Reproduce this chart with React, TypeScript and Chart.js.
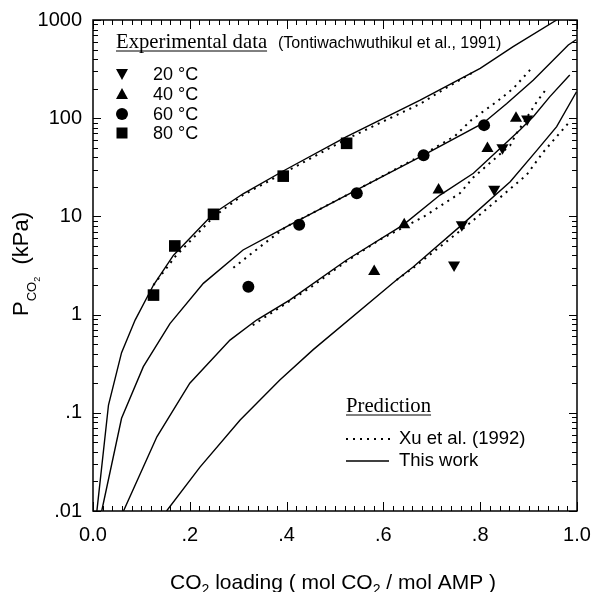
import React, { useEffect, useRef } from 'react';
import { Chart, registerables } from 'chart.js';

Chart.register(...registerables);

// ---------- axis ticks ----------
const X_TICKS = [0, 0.2, 0.4, 0.6, 0.8, 1.0];
const X_TICK_LABELS = ['0.0', '.2', '.4', '.6', '.8', '1.0'];
const Y_TICKS = [0.01, 0.1, 1, 10, 100, 1000];
const Y_TICK_LABELS = ['.01', '.1', '1', '10', '100', '1000'];

// ---------- "This work" predictions (solid) ----------
const work80X = [0.008, 0.032, 0.059, 0.087, 0.125, 0.166, 0.249, 0.31, 0.393, 0.524, 0.676, 0.8, 0.868, 0.958];
const work80Y = [0.01, 0.12, 0.41, 0.88, 2.0, 4.0, 10.7, 17, 29, 65, 153, 322, 535, 1000];
const work60X = [0.018, 0.059, 0.104, 0.159, 0.228, 0.31, 0.4, 0.545, 0.683, 0.806, 0.855, 0.91, 0.982, 0.998];
const work60Y = [0.01, 0.088, 0.295, 0.81, 2.08, 4.55, 7.85, 18.6, 42, 89, 141, 245, 556, 630];
const work40X = [0.063, 0.132, 0.2, 0.283, 0.338, 0.407, 0.524, 0.641, 0.717, 0.786, 0.882, 0.91, 0.944, 0.985];
const work40Y = [0.01, 0.057, 0.2, 0.55, 0.88, 1.41, 3.6, 8.2, 16.5, 27.5, 76, 104, 166, 275];
const work20X = [0.152, 0.221, 0.304, 0.386, 0.455, 0.627, 0.662, 0.762, 0.862, 0.917, 0.958, 0.999];
const work20Y = [0.01, 0.028, 0.0845, 0.216, 0.44, 2.25, 3.07, 8.2, 22.5, 47, 82, 186];

// ---------- Xu et al. (1992) predictions (dotted) ----------
const xu80X = [0.125, 0.17, 0.25, 0.31, 0.39, 0.52, 0.6, 0.676, 0.727, 0.758, 0.789];
const xu80Y = [2.0, 3.9, 10.0, 16.5, 27, 60, 93, 140, 200, 245, 300];
const xu60X = [0.29, 0.345, 0.4, 0.545, 0.683, 0.748, 0.782, 0.834, 0.868, 0.903];
const xu60Y = [3.0, 4.9, 7.9, 18.6, 43, 66, 96, 147, 200, 310];
const xu40X = [0.33, 0.45, 0.524, 0.593, 0.683, 0.758, 0.786, 0.862, 0.875, 0.889, 0.917, 0.937];
const xu40Y = [0.78, 1.9, 3.5, 5.8, 9.9, 17.2, 25, 53, 70, 89, 147, 200];
const xu20X = [0.627, 0.662, 0.782, 0.896, 0.93, 0.982];
const xu20Y = [2.25, 3.0, 8.8, 26.5, 45, 89];

// ---------- Experimental data (Tontiwachwuthikul et al., 1991) ----------
const exp20X = [0.746, 0.762, 0.829, 0.846, 0.897];
const exp20Y = [3.2, 8.2, 18.9, 50, 98];
const exp40X = [0.581, 0.643, 0.714, 0.815, 0.874];
const exp40Y = [2.74, 8.2, 18.6, 49, 100];
const exp60X = [0.321, 0.426, 0.545, 0.683, 0.808];
const exp60Y = [1.92, 8.2, 17.2, 42, 85];
const exp80X = [0.125, 0.169, 0.249, 0.393, 0.524];
const exp80Y = [1.58, 5.0, 10.5, 25.7, 55.5];

const SANS = '"Liberation Sans", Arial, sans-serif';
const SERIF = '"Liberation Serif", "Times New Roman", serif';

const pts = (xs: number[], ys: number[]) => xs.map((x, i) => ({ x, y: ys[i] }));

const solid = (xs: number[], ys: number[]) => ({
  data: pts(xs, ys),
  showLine: true,
  borderColor: '#000',
  borderWidth: 1.4,
  pointRadius: 0,
  fill: false,
  tension: 0,
});
const dotted = (xs: number[], ys: number[]) => ({
  data: pts(xs, ys),
  showLine: true,
  borderColor: '#000',
  borderWidth: 2,
  borderDash: [2, 5],
  pointRadius: 0,
  fill: false,
  tension: 0,
});
const marks = (xs: number[], ys: number[], style: string, r: number, rot = 0) => ({
  data: pts(xs, ys),
  showLine: false,
  pointStyle: style,
  pointRadius: r,
  pointRotation: rot,
  backgroundColor: '#000',
  borderColor: '#000',
  borderWidth: 0,
});

type Part = { t: string; s: number; dy: number };
function drawParts(ctx: CanvasRenderingContext2D, parts: Part[], cx: number, baseY: number) {
  let total = 0;
  const widths = parts.map((p) => {
    ctx.font = `${p.s}px ${SANS}`;
    const w = ctx.measureText(p.t).width;
    total += w;
    return w;
  });
  let x = cx - total / 2;
  ctx.textAlign = 'left';
  ctx.textBaseline = 'alphabetic';
  parts.forEach((p, i) => {
    ctx.font = `${p.s}px ${SANS}`;
    ctx.fillText(p.t, x, baseY + p.dy);
    x += widths[i];
  });
}

const decorations = {
  id: 'decorations',
  afterDraw(chart: any) {
    const { ctx, chartArea: a, scales } = chart;
    const xs = scales.x;
    const ys = scales.y;
    ctx.save();
    ctx.strokeStyle = '#000';
    ctx.fillStyle = '#000';
    ctx.lineWidth = 1;
    const seg = (x1: number, y1: number, x2: number, y2: number) => {
      ctx.beginPath();
      ctx.moveTo(x1, y1);
      ctx.lineTo(x2, y2);
      ctx.stroke();
    };
    // x ticks (inward, bottom and top)
    for (let i = 0; i <= 50; i++) {
      const px = Math.round(xs.getPixelForValue(i / 50)) + 0.5;
      const len = i % 10 === 0 ? 9 : 5;
      seg(px, a.bottom, px, a.bottom - len);
      seg(px, a.top, px, a.top + len);
    }
    // y ticks (inward, left and right)
    for (let e = -2; e <= 3; e++) {
      for (let m = 1; m <= 9; m++) {
        if (e === 3 && m > 1) break;
        const v = m * Math.pow(10, e);
        const py = Math.round(ys.getPixelForValue(v)) + 0.5;
        const len = m === 1 ? 8 : 5;
        seg(a.left, py, a.left + len, py);
        seg(a.right, py, a.right - len, py);
      }
    }
    // frame
    ctx.lineWidth = 1.5;
    ctx.strokeRect(a.left, a.top, a.right - a.left, a.bottom - a.top);

    // axis titles
    drawParts(
      ctx,
      [
        { t: 'CO', s: 21, dy: 0 },
        { t: '2', s: 14, dy: 5 },
        { t: ' loading ( mol CO', s: 21, dy: 0 },
        { t: '2', s: 14, dy: 5 },
        { t: ' / mol AMP )', s: 21, dy: 0 },
      ],
      333,
      589
    );
    ctx.save();
    ctx.translate(28, 264);
    ctx.rotate(-Math.PI / 2);
    drawParts(
      ctx,
      [
        { t: 'P', s: 22, dy: 0 },
        { t: 'CO', s: 13, dy: 8 },
        { t: '2', s: 9, dy: 12 },
        { t: '  (kPa)', s: 22, dy: 0 },
      ],
      0,
      0
    );
    ctx.restore();

    // legend: experimental data
    ctx.textAlign = 'left';
    ctx.textBaseline = 'alphabetic';
    ctx.font = `20.7px ${SERIF}`;
    const expTitle = 'Experimental data';
    ctx.fillText(expTitle, 116, 48);
    const ew = ctx.measureText(expTitle).width;
    ctx.lineWidth = 1;
    seg(116, 51, 116 + ew, 51);
    ctx.font = `16px ${SANS}`;
    ctx.fillText('(Tontiwachwuthikul et al., 1991)', 278, 48);

    const rows = [
      { label: '20 °C', y: 74, shape: 'down' },
      { label: '40 °C', y: 94, shape: 'up' },
      { label: '60 °C', y: 114, shape: 'circle' },
      { label: '80 °C', y: 133, shape: 'square' },
    ];
    const mx = 122;
    rows.forEach((r) => {
      ctx.beginPath();
      if (r.shape === 'down') {
        ctx.moveTo(mx - 6, r.y - 5);
        ctx.lineTo(mx + 6, r.y - 5);
        ctx.lineTo(mx, r.y + 6);
      } else if (r.shape === 'up') {
        ctx.moveTo(mx - 6, r.y + 5);
        ctx.lineTo(mx + 6, r.y + 5);
        ctx.lineTo(mx, r.y - 6);
      } else if (r.shape === 'circle') {
        ctx.arc(mx, r.y, 6, 0, Math.PI * 2);
      } else {
        ctx.rect(mx - 5.5, r.y - 5.5, 11, 11);
      }
      ctx.closePath();
      ctx.fill();
      ctx.font = `18px ${SANS}`;
      ctx.textBaseline = 'middle';
      ctx.fillText(r.label, 153, r.y + 1);
    });

    // legend: prediction
    ctx.textBaseline = 'alphabetic';
    ctx.font = `20.7px ${SERIF}`;
    ctx.fillText('Prediction', 346, 412);
    const pw = ctx.measureText('Prediction').width;
    seg(346, 415, 346 + pw, 415);
    ctx.lineWidth = 2;
    ctx.setLineDash([2, 5]);
    seg(346, 439, 390, 439);
    ctx.setLineDash([]);
    ctx.lineWidth = 1.4;
    seg(346, 461, 389, 461);
    ctx.font = `18.5px ${SANS}`;
    ctx.textBaseline = 'middle';
    ctx.fillText('Xu et al. (1992)', 399, 439);
    ctx.fillText('This work', 399, 461);
    ctx.restore();
  },
};

const labelFor = (ticks: number[], labels: string[]) => (v: any) => {
  const n = Number(v);
  const i = ticks.findIndex((t) => Math.abs(t - n) <= Math.abs(t) * 1e-6 + 1e-12);
  return i >= 0 ? labels[i] : '';
};

export default function App() {
  const ref = useRef<HTMLCanvasElement | null>(null);
  useEffect(() => {
    if (!ref.current) return;
    const chart = new Chart(ref.current, {
      type: 'scatter',
      data: {
        datasets: [
          solid(work80X, work80Y),
          solid(work60X, work60Y),
          solid(work40X, work40Y),
          solid(work20X, work20Y),
          dotted(xu80X, xu80Y),
          dotted(xu60X, xu60Y),
          dotted(xu40X, xu40Y),
          dotted(xu20X, xu20Y),
          marks(exp20X, exp20Y, 'triangle', 7, 180),
          marks(exp40X, exp40Y, 'triangle', 7, 0),
          marks(exp60X, exp60Y, 'circle', 6),
          marks(exp80X, exp80Y, 'rect', 8.2),
        ] as any,
      },
      options: {
        animation: false,
        responsive: false,
        maintainAspectRatio: false,
        layout: { padding: { left: 0, right: 16, top: 20, bottom: 0 } },
        plugins: { legend: { display: false }, tooltip: { enabled: false } },
        scales: {
          x: {
            type: 'linear',
            min: 0,
            max: 1,
            grid: { display: false, drawTicks: false },
            border: { display: false },
            afterBuildTicks: (s: any) => {
              s.ticks = X_TICKS.map((v) => ({ value: v }));
            },
            afterFit: (s: any) => {
              s.height = 81;
              s.paddingLeft = 0;
              s.paddingRight = 0;
              s.paddingTop = 0;
              s.paddingBottom = 0;
            },
            ticks: {
              callback: labelFor(X_TICKS, X_TICK_LABELS),
              autoSkip: false,
              maxRotation: 0,
              padding: 12,
              color: '#000',
              font: { family: SANS, size: 20 },
            },
          },
          y: {
            type: 'logarithmic',
            min: 0.01,
            max: 1000,
            grid: { display: false, drawTicks: false },
            border: { display: false },
            afterBuildTicks: (s: any) => {
              s.ticks = Y_TICKS.map((v) => ({ value: v }));
            },
            afterFit: (s: any) => {
              s.width = 93;
              s.paddingLeft = 0;
              s.paddingRight = 0;
              s.paddingTop = 0;
              s.paddingBottom = 0;
            },
            ticks: {
              callback: labelFor(Y_TICKS, Y_TICK_LABELS),
              autoSkip: false,
              padding: 11,
              color: '#000',
              font: { family: SANS, size: 20 },
            },
          },
        },
      } as any,
      plugins: [decorations],
    });
    return () => chart.destroy();
  }, []);
  return (
    <div style={{ position: 'absolute', left: 0, top: 0, width: 593, height: 592, background: '#fff' }}>
      <canvas ref={ref} width={593} height={592} />
    </div>
  );
}
